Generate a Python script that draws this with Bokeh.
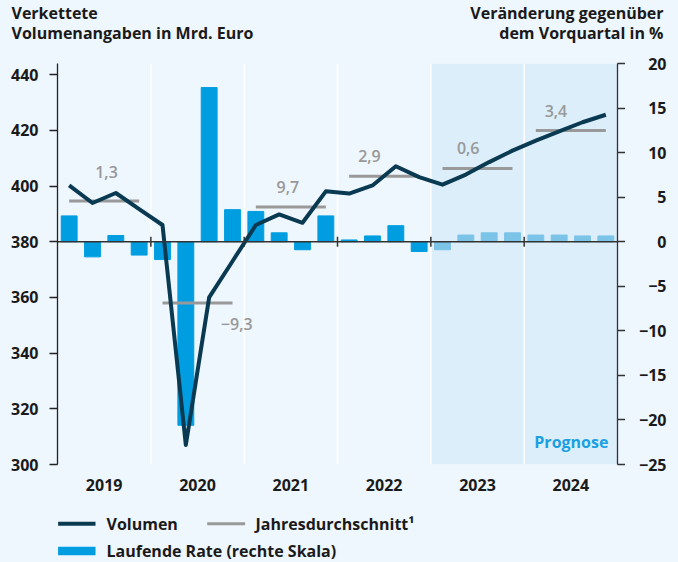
from bokeh.plotting import figure
from bokeh.layouts import column, row
from bokeh.models import (Range1d, LinearAxis, FixedTicker, Span, BoxAnnotation, Label,
                          ColumnDataSource, CustomJSTickFormatter)
from bokeh.core.properties import value
from bokeh.embed import file_html
from bokeh.resources import INLINE

# ---------------- data ----------------
years = ["2019", "2020", "2021", "2022", "2023", "2024"]
volumen = [400.2, 393.9, 397.5, 391.7, 386.0, 307.0, 360.0, 373.0,
           386.0, 389.8, 386.8, 398.1, 397.3, 400.2, 407.1, 403.2,
           400.5, 404.1, 408.6, 412.7, 416.3, 419.6, 422.9, 425.6]
rate = [2.9, -1.7, 0.7, -1.5, -2.0, -20.6, 17.3, 3.6,
        3.4, 1.0, -0.9, 2.9, 0.2, 0.65, 1.8, -1.1,
        -0.9, 0.75, 1.0, 1.0, 0.75, 0.75, 0.65, 0.65]
annual_avg = [394.6, 358.0, 392.5, 403.5, 406.3, 419.9]
annual_rate = ["1,3", "\u22129,3", "9,7", "2,9", "0,6", "3,4"]
forecast_start_year = "2023"
left_ticks = [300, 320, 340, 360, 380, 400, 420, 440]
right_ticks = [-25, -20, -15, -10, -5, 0, 5, 10, 15, 20]
title_left = "Verkettete\nVolumenangaben in Mrd. Euro"
title_right = "Ver\u00e4nderung gegen\u00fcber\ndem Vorquartal in %"
legend_labels = ["Volumen", "Jahresdurchschnitt\u00b9", "Laufende Rate (rechte Skala)"]

# ---------------- styles / layout ----------------
BG = "#eef6fe"
SHADE = "#dbeefa"
BAR = "#009ee0"
BAR_F = "#7cc3e8"
NAVY = "#0a3a52"
GRAY = "#999999"
PROG = "#1aa0e0"
INK = "#1a1a1a"
FONT = "Open Sans"
FSTYLE = "bold"
SEMI = "Open Sans SemiBold, Open Sans"
label_dx = [2.1, 3.68, 1.87, 1.37, 1.6, 1.36]
label_dy = [-29, 21, -20, -20, -20, -20]

W, H = 678, 562
HEADER_H = 53
FOOTER_H = 62
B_LEFT, B_RIGHT, B_TOP, B_BOTTOM = 57, 8, 10, 36
MAIN_W = 625
MAIN_H = H - HEADER_H - FOOTER_H
FRAME_H = MAIN_H - B_TOP - B_BOTTOM

n = len(volumen)
xq = [i + 0.5 for i in range(n)]
fc_idx = years.index(forecast_start_year) * 4
bar_colors = [BAR if i < fc_idx else BAR_F for i in range(n)]
left_zero = 380
pct_lo, pct_hi = right_ticks[0], right_ticks[-1]
scale = (left_zero - left_ticks[0]) / (0 - pct_lo)
left_top = left_zero + pct_hi * scale


def blank(width, height, xr, yr):
    f = figure(width=width, height=height, x_range=xr, y_range=yr, output_backend="svg",
               toolbar_location=None, min_border=0, x_axis_location=None,
               y_axis_location=None, background_fill_color=BG, border_fill_color=BG,
               outline_line_color=None)
    f.grid.visible = False
    f.frame_align = False
    return f


def tstyle(size="16px", color=INK, font=FONT, style=FSTYLE):
    return dict(text_font=value(font), text_font_size=size, text_font_style=style,
                text_color=color)


# ---------------- header ----------------
header = blank(W, HEADER_H, Range1d(0, W), Range1d(HEADER_H, 0))
header.text(x=[11], y=[22.5], text=[title_left], text_align="left", text_baseline="middle",
            text_line_height=0.87, **tstyle())
header.text(x=[663], y=[22.5], text=[title_right], text_align="right", text_baseline="middle",
            text_line_height=0.87, **tstyle())

# ---------------- main ----------------
p = figure(width=MAIN_W, height=MAIN_H, x_range=Range1d(0, n),
           y_range=Range1d(left_ticks[0], left_top),
           output_backend="svg", toolbar_location=None,
           min_border_left=B_LEFT, min_border_right=B_RIGHT, min_border_top=B_TOP,
           min_border_bottom=B_BOTTOM,
           background_fill_color=BG, border_fill_color=BG, outline_line_color=None)
p.extra_y_ranges = {"pct": Range1d(pct_lo, pct_hi)}
p.grid.visible = False
p.frame_align = False

p.add_layout(BoxAnnotation(left=fc_idx, right=n, fill_color=SHADE, fill_alpha=1,
                           line_color=None, level="underlay"))
for b in range(4, n, 4):
    p.add_layout(Span(location=b, dimension="height", line_color="white",
                      line_width=1.5, level="underlay"))

src_b = ColumnDataSource(dict(x=xq, top=rate, color=bar_colors))
bars = p.vbar(x="x", top="top", bottom=0, width=0.68, color="color",
              source=src_b, y_range_name="pct")

p.add_layout(Span(location=left_zero, dimension="width", line_color="#333333", line_width=1.5))
bounds = list(range(4, n, 4))
p.segment(x0=bounds, x1=bounds, y0=[left_zero - 1.8] * len(bounds),
          y1=[left_zero + 1.8] * len(bounds), line_color="#333333", line_width=1.5)

ys = [4 * k for k in range(len(years))]
avg_r = p.segment(x0=[s + 0.5 for s in ys], x1=[s + 3.5 for s in ys],
                  y0=annual_avg, y1=annual_avg, line_color=GRAY, line_width=3)

line_r = p.line(xq, volumen, line_color=NAVY, line_width=4, line_join="round")

p.text(x=[s + d for s, d in zip(ys, label_dx)], y=annual_avg, text=annual_rate,
       y_offset=label_dy, text_align="center", text_baseline="middle",
       **tstyle(color=GRAY, font=SEMI, style="normal"))

p.add_layout(Label(x=n - 0.39, y=left_ticks[0] + 8.2, text="Prognose", text_align="right",
                   text_baseline="middle", text_font=FONT, text_font_size="16px",
                   text_font_style=FSTYLE, text_color=PROG))

yl = p.yaxis[0]
yl.ticker = FixedTicker(ticks=left_ticks)
yl.major_tick_out = 8
yl.major_tick_in = 0
yl.minor_tick_line_color = None
yl.axis_line_color = "#222222"
yl.axis_line_width = 1.3
yl.major_tick_line_color = "#222222"
yl.major_tick_line_width = 1.3
yl.major_label_standoff = 11
yl.major_label_text_font = FONT
yl.major_label_text_font_size = "16px"
yl.major_label_text_font_style = FSTYLE
yl.major_label_text_color = INK

yr = LinearAxis(y_range_name="pct", ticker=FixedTicker(ticks=right_ticks),
                formatter=CustomJSTickFormatter(code="return ''"))
yr.major_tick_out = 8
yr.major_tick_in = 0
yr.major_label_standoff = 0
yr.minor_tick_line_color = None
yr.axis_line_color = "#333333"
yr.axis_line_width = 1.3
yr.major_tick_line_color = "#333333"
yr.major_tick_line_width = 1.3
p.add_layout(yr, "right")

xb = p.xaxis[0]
centers = [s + 2 for s in ys]
xb.ticker = FixedTicker(ticks=centers)
xb.major_label_overrides = {c: y for c, y in zip(centers, years)}
xb.axis_line_color = None
xb.major_tick_line_color = None
xb.minor_tick_line_color = None
xb.major_tick_out = 0
xb.major_tick_in = 0
xb.major_label_standoff = 14
xb.major_label_text_font = FONT
xb.major_label_text_font_size = "16px"
xb.major_label_text_font_style = FSTYLE
xb.major_label_text_color = INK

# ---------------- right tick labels (right-aligned) ----------------
k = (pct_hi - pct_lo) / FRAME_H
rlab = blank(W - MAIN_W, MAIN_H, Range1d(0, W - MAIN_W),
             Range1d(pct_lo - B_BOTTOM * k, pct_hi + B_TOP * k))
rtxt = [("\u2212" + str(-t)) if t < 0 else str(t) for t in right_ticks]
rlab.text(x=[41] * len(right_ticks), y=right_ticks, text=rtxt, text_align="right",
          text_baseline="middle", **tstyle())

# ---------------- footer legend ----------------
footer = blank(W, FOOTER_H, Range1d(0, W), Range1d(FOOTER_H, 0))
r1, r2 = 23.3, 50.5
footer.segment(x0=[57.6], x1=[95], y0=[r1], y1=[r1], line_color=NAVY, line_width=4)
footer.segment(x0=[206.7], x1=[244.6], y0=[r1], y1=[r1], line_color=GRAY, line_width=3)
footer.quad(left=[57.6], right=[95], top=[r2 - 4.2], bottom=[r2 + 4.2], fill_color=BAR,
            line_color=None)
footer.text(x=[106, 255, 106], y=[r1, r1, r2], text=legend_labels, text_align="left",
            text_baseline="middle", **tstyle())

layout = column(header, row(p, rlab), footer)
html = file_html(layout, INLINE)
html = html.replace("<body>", '<body style="background:%s">' % BG)
open("out.html", "w").write(html)
